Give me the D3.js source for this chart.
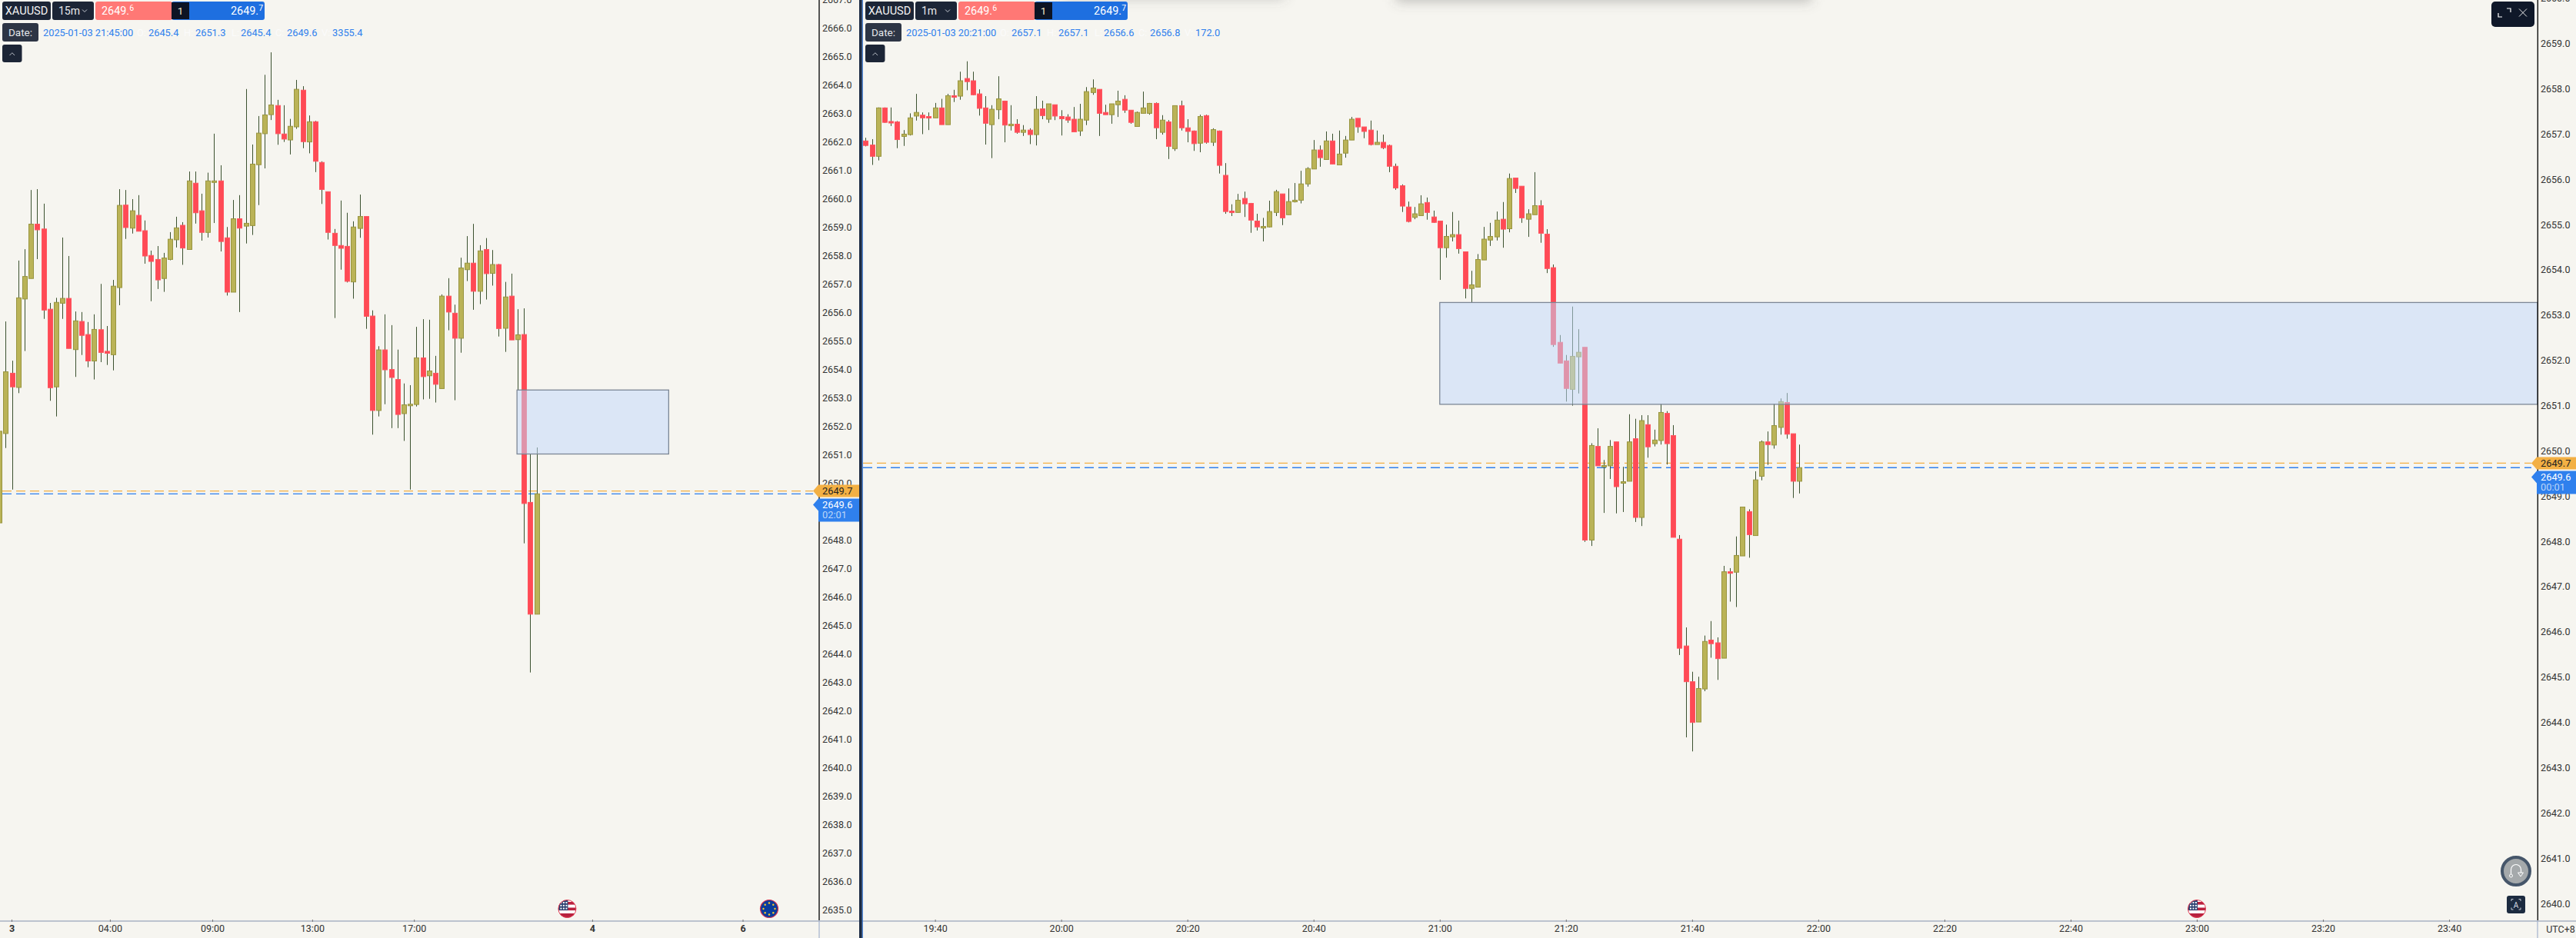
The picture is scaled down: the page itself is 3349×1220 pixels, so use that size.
<!DOCTYPE html>
<html><head><meta charset="utf-8">
<script src="https://cdn.jsdelivr.net/npm/d3@7/dist/d3.min.js"></script>
<style>
html,body{margin:0;padding:0;background:#f6f5f0;overflow:hidden}
svg{display:block}
text{font-family:Roboto,"Open Sans",sans-serif}
.ax text{font-family:Roboto,sans-serif}
</style></head><body>
<svg id="c" width="3349" height="1220"></svg>
<script>
// ---------- 15m chart (left) ----------
const leftOpen=[2648.58,2651.72,2653.84,2653.34,2656.45,2657.17,2659.08,2658.91,2656.09,2653.36,2656.30,2656.47,2654.67,2655.66,2655.20,2654.27,2655.37,2654.61,2654.49,2656.85,2659.75,2658.94,2659.39,2658.85,2657.98,2657.84,2657.17,2657.84,2658.53,2659.04,2658.19,2660.52,2659.55,2658.79,2660.56,2660.60,2658.60,2656.69,2659.27,2659.01,2659.03,2661.17,2662.26,2662.93,2663.25,2662.25,2662.04,2662.50,2663.79,2661.97,2662.68,2661.25,2660.22,2658.76,2658.33,2658.30,2657.05,2658.93,2659.35,2655.85,2652.53,2654.66,2653.97,2653.62,2652.42,2652.71,2652.74,2654.38,2653.75,2653.84,2653.30,2656.55,2655.95,2655.07,2657.48,2657.71,2656.72,2658.19,2657.35,2657.66,2655.42,2656.55,2655.02,2655.20,2649.30,2645.37];
const leftClose=[2651.80,2653.89,2653.36,2656.49,2657.24,2659.08,2658.88,2656.06,2653.33,2656.33,2656.47,2654.71,2655.68,2655.17,2654.27,2655.38,2654.57,2654.54,2656.90,2659.74,2658.96,2659.55,2658.83,2657.96,2657.77,2657.12,2657.89,2658.55,2658.95,2658.24,2660.60,2659.48,2658.79,2660.60,2660.60,2658.47,2656.69,2659.27,2658.94,2659.11,2661.19,2662.28,2662.92,2663.27,2662.26,2662.07,2662.52,2663.82,2661.98,2662.68,2661.29,2660.30,2658.79,2658.33,2658.23,2657.07,2658.98,2659.35,2655.84,2652.53,2654.66,2653.96,2653.69,2652.39,2652.73,2652.75,2654.38,2653.72,2653.92,2653.45,2656.55,2655.99,2655.07,2657.54,2657.71,2656.72,2658.14,2657.34,2657.66,2655.41,2656.52,2655.01,2655.19,2649.26,2645.37,2649.60];
const leftHigh=[2651.80,2655.66,2654.28,2657.80,2658.20,2660.28,2660.31,2659.80,2656.31,2656.49,2658.61,2657.96,2656.01,2655.99,2655.64,2655.91,2656.98,2655.50,2657.12,2660.31,2660.28,2659.96,2660.10,2659.21,2658.15,2658.31,2658.07,2658.80,2659.34,2659.15,2660.93,2660.93,2660.15,2660.89,2662.26,2661.15,2658.98,2659.93,2660.10,2663.83,2661.88,2662.88,2664.33,2665.12,2663.45,2663.26,2662.78,2664.15,2663.93,2662.90,2662.71,2661.29,2660.23,2658.91,2659.91,2659.48,2659.18,2660.12,2659.36,2656.05,2654.79,2655.91,2655.53,2654.67,2653.48,2653.42,2655.47,2655.74,2655.72,2654.45,2656.61,2657.18,2656.25,2657.90,2658.66,2659.09,2658.34,2658.59,2658.17,2657.68,2657.05,2657.34,2656.09,2656.12,2651.00,2651.23];
const leftLow=[2648.58,2651.21,2649.75,2653.14,2654.62,2657.17,2657.85,2655.75,2652.87,2652.32,2655.75,2654.71,2653.71,2654.48,2654.05,2653.62,2654.23,2654.13,2653.94,2656.23,2658.56,2658.75,2658.83,2657.69,2656.37,2656.80,2656.70,2657.81,2658.26,2657.65,2658.19,2659.10,2658.50,2658.61,2659.12,2658.12,2656.57,2656.69,2655.99,2658.40,2658.70,2659.75,2661.04,2662.74,2661.87,2661.97,2661.53,2662.43,2661.75,2661.57,2660.91,2659.79,2658.54,2655.78,2657.48,2657.03,2656.46,2658.60,2655.40,2651.68,2652.32,2652.75,2651.91,2651.91,2651.46,2649.75,2652.67,2652.92,2652.94,2652.81,2653.30,2655.35,2652.89,2654.56,2657.08,2656.07,2656.27,2656.43,2656.92,2655.13,2654.59,2655.01,2653.25,2647.86,2643.32,2645.37];
const leftPriceTicks=d3.range(2635,2668);
const leftTimeIdx=[1.94,17.5,33.7,49.5,65.6,93.8,117.6];
const leftTimeLabels=["3","04:00","09:00","13:00","17:00","4","6"];
const leftZoneIdx=[81.9,105.9];

// ---------- 1m chart (right) ----------
const rightStart=[19,29];
const rightOpen=[2656.82,2656.73,2656.48,2657.55,2657.25,2657.24,2656.92,2656.96,2657.37,2657.39,2657.36,2657.33,2657.55,2657.18,2657.82,2657.81,2658.20,2658.15,2657.86,2657.55,2657.18,2657.51,2657.70,2657.16,2657.19,2657.01,2657.06,2656.96,2657.53,2657.30,2657.62,2657.36,2657.35,2657.30,2657.04,2657.28,2657.89,2657.96,2657.45,2657.40,2657.62,2657.74,2657.50,2657.14,2657.43,2657.43,2657.65,2657.01,2657.24,2656.65,2657.60,2657.11,2657.04,2656.77,2657.38,2656.79,2657.04,2656.06,2655.27,2655.24,2655.55,2655.44,2655.05,2654.91,2654.92,2655.24,2655.65,2655.19,
2655.49,2655.51,2655.87,2656.20,2656.62,2656.41,2656.82,2656.29,2656.55,2656.84,2657.32,2657.13,2657.06,2656.74,2656.79,2656.72,2656.26,2655.83,2655.36,2655.13,2655.17,2655.46,2655.14,2655.05,2654.46,2654.70,2654.75,2654.37,2653.56,2653.59,2654.19,2654.63,2654.70,2655.09,2654.88,2656.00,2655.82,2655.09,2655.19,2655.39,2654.76,2654.02,2652.37,2651.96,2651.33,2652.05,2652.26,
2648.00,2650.07,2649.63,2649.64,2650.17,2649.27,2649.30,2650.24,2648.50,2650.55,2650.13,2650.20,2650.80,2650.31,2648.02,2645.66,2644.87,2643.98,2644.71,2645.79,2645.73,2645.39,2647.30,2647.29,2647.65,2648.63,2648.10,2649.41,2650.17,2650.10,2650.49,2651.04,2650.35,2649.30];
const rightClose=[2656.72,2656.48,2657.55,2657.23,2657.23,2656.85,2656.97,2657.33,2657.45,2657.33,2657.34,2657.55,2657.18,2657.82,2657.79,2658.15,2658.13,2657.84,2657.54,2657.21,2657.52,2657.75,2657.17,2657.19,2657.01,2657.06,2656.96,2657.52,2657.38,2657.64,2657.37,2657.31,2657.28,2657.02,2657.30,2657.91,2657.99,2657.43,2657.40,2657.64,2657.70,2657.50,2657.23,2657.45,2657.55,2657.65,2657.11,2657.28,2656.70,2657.60,2657.11,2657.03,2656.76,2657.36,2656.79,2657.07,2656.28,2655.26,2655.24,2655.51,2655.43,2655.07,2654.92,2654.93,2655.26,2655.70,2655.12,2655.48,
2655.51,2655.87,2656.21,2656.62,2656.45,2656.82,2656.31,2656.53,2656.84,2657.30,2657.13,2657.03,2656.74,2656.79,2656.67,2656.26,2655.78,2655.38,2655.04,2655.21,2655.43,2655.24,2655.02,2654.46,2654.71,2654.75,2654.44,2653.56,2653.64,2654.20,2654.65,2654.71,2655.07,2654.87,2655.99,2655.77,2655.12,2655.21,2655.39,2654.78,2654.00,2652.32,2651.91,2651.35,2652.06,2652.15,2648.00,
2650.09,2649.64,2649.65,2650.07,2649.18,2649.29,2650.17,2648.50,2650.64,2650.06,2650.21,2650.82,2650.13,2648.06,2645.61,2644.87,2643.97,2644.72,2645.76,2645.71,2645.38,2647.30,2647.27,2647.66,2648.73,2648.12,2649.33,2650.17,2650.11,2650.53,2651.06,2650.34,2649.30,2649.60];
const rightHigh=[2656.89,2656.86,2657.56,2657.56,2657.56,2657.26,2657.06,2657.43,2657.86,2657.45,2657.45,2657.66,2657.75,2657.86,2657.95,2658.35,2658.58,2658.35,2657.96,2657.81,2657.61,2658.25,2657.71,2657.61,2657.30,2657.17,2657.10,2657.81,2657.71,2657.64,2657.62,2657.50,2657.41,2657.57,2657.64,2658.01,2658.18,2657.96,2657.62,2657.64,2657.93,2657.83,2657.50,2657.47,2657.91,2657.66,2657.67,2657.39,2657.28,2657.60,2657.71,2657.30,2657.05,2657.40,2657.40,2657.10,2657.05,2656.33,2655.42,2655.65,2655.70,2655.45,2655.21,2655.12,2655.50,2655.74,2655.65,2655.77,
2655.89,2656.16,2656.24,2656.84,2656.72,2657.03,2656.98,2657.05,2656.93,2657.35,2657.32,2657.13,2657.27,2657.05,2656.96,2656.74,2656.32,2655.86,2655.48,2655.36,2655.62,2655.57,2655.28,2655.05,2654.97,2655.25,2655.06,2654.37,2653.95,2654.32,2654.92,2655.01,2655.26,2655.47,2656.10,2656.00,2655.82,2655.31,2656.13,2655.51,2654.87,2654.09,2652.53,2652.09,2653.16,2652.66,2652.26,
2650.14,2650.47,2649.77,2650.21,2650.17,2649.62,2650.78,2650.68,2650.76,2650.76,2650.44,2651.01,2650.85,2650.54,2648.11,2646.07,2645.09,2644.98,2645.89,2646.21,2645.85,2647.43,2647.38,2648.08,2648.73,2648.68,2649.52,2650.20,2650.40,2651.01,2651.13,2651.25,2650.35,2650.11];
const rightLow=[2656.70,2656.29,2656.39,2657.22,2657.15,2656.66,2656.71,2656.94,2657.27,2656.97,2657.06,2657.33,2657.18,2657.18,2657.68,2657.73,2657.94,2657.83,2657.38,2656.74,2656.44,2657.30,2656.79,2657.05,2656.98,2656.93,2656.75,2656.72,2657.30,2657.22,2657.28,2656.94,2657.22,2657.02,2656.93,2657.17,2657.84,2656.93,2657.40,2657.20,2657.35,2657.44,2657.20,2657.14,2657.43,2657.40,2656.86,2656.96,2656.42,2656.60,2657.05,2656.79,2656.60,2656.57,2656.76,2656.71,2656.10,2655.21,2655.16,2655.23,2655.14,2654.79,2654.84,2654.60,2654.91,2655.16,2654.96,2655.19,
2655.46,2655.44,2655.81,2656.20,2656.25,2656.41,2656.31,2656.29,2656.45,2656.84,2657.00,2656.88,2656.72,2656.74,2656.64,2656.13,2655.74,2655.25,2655.02,2655.09,2655.17,2655.08,2655.01,2653.75,2654.24,2654.60,2654.33,2653.34,2653.25,2653.59,2654.19,2654.50,2654.62,2654.46,2654.80,2655.67,2655.01,2654.70,2655.19,2654.57,2653.90,2652.27,2651.91,2651.06,2650.97,2651.24,2647.96,
2647.87,2649.64,2648.60,2649.35,2648.59,2648.62,2649.30,2648.40,2648.31,2649.82,2650.07,2650.11,2649.67,2648.06,2645.46,2643.64,2643.33,2643.98,2644.66,2645.40,2644.91,2645.39,2646.64,2646.52,2647.65,2647.61,2648.10,2649.32,2649.66,2650.02,2650.33,2650.24,2648.93,2649.03];
const rightPriceTicks=d3.range(2640,2661);
const rightTimeLabels=["19:40","20:00","20:20","20:40","21:00","21:20","21:40","22:00","22:20","22:40","23:00","23:20","23:40"];
const zonePrices=[2653.25,2651.0];
const askPrice=2649.7, bidPrice=2649.6;
const headerLeft=["2025-01-03 21:45:00","2645.4","2651.3","2645.4","2649.6","3355.4"];
const headerRight=["2025-01-03 20:21:00","2657.1","2657.1","2656.6","2656.8","172.0"];

// ---------- colours ----------
const BG="#f6f5f0",UP="#bab357",UPS="#989540",DN="#ff4a55",WICK="#3c5230",ORANGE="#f3b044",BLUE="#2f80ed",NAVY="#1c2536";

const svg=d3.select("#c");
svg.append("rect").attr("width",3349).attr("height",1220).attr("fill",BG);
const defs=svg.append("defs");
defs.append("clipPath").attr("id","clipL").append("rect").attr("x",0).attr("y",0).attr("width",1064).attr("height",1197);
defs.append("clipPath").attr("id","clipR").append("rect").attr("x",1122).attr("y",0).attr("width",2177).attr("height",1197);
defs.append("filter").attr("id","blur").attr("x","-20%").attr("y","-200%").attr("width","140%").attr("height","500%")
  .append("feGaussianBlur").attr("stdDeviation",8);

// scales
const xL=d3.scaleLinear().domain([1,85]).range([7.3,697.6]);
const yL=d3.scaleLinear().domain([2656,2635]).range([405.5,1182.5]);
const t=(h,m)=>new Date(2025,0,3,h,m);
const xR=d3.scaleTime().domain([t(19,29),t(21,57)]).range([1125.4,2339.3]);
const yR=d3.scaleLinear().domain([2659,2640]).range([55,1173.3]);

function candles(g,open,high,low,close,xOf,y){
  const data=open.map((o,i)=>({i,o,h:high[i],l:low[i],c:close[i]}));
  const px=d=>Math.round(xOf(d.i))+0.5;
  g.selectAll("line.w").data(data).join("line").attr("class","w")
    .attr("x1",px).attr("x2",px).attr("y1",d=>y(d.h)).attr("y2",d=>y(d.l))
    .attr("stroke",WICK).attr("stroke-width",1);
  g.selectAll("rect.b").data(data).join("rect").attr("class","b")
    .attr("x",d=>px(d)-3).attr("width",6)
    .attr("y",d=>y(Math.max(d.o,d.c)))
    .attr("height",d=>Math.max(2,Math.abs(y(d.o)-y(d.c))))
    .attr("fill",d=>d.c>=d.o?UP:DN)
    .attr("stroke",d=>d.c>=d.o?UPS:"#ff5560").attr("stroke-width",1);
}
function dashed(sel,x1,x2,yy,col){
  sel.append("line").attr("x1",x1).attr("x2",x2).attr("y1",yy).attr("y2",yy)
    .attr("stroke",col).attr("stroke-width",1.3).attr("stroke-dasharray","12 6");
}
function zone(g,x0,x1,y){
  g.append("rect").attr("x",x0).attr("y",y(zonePrices[0])).attr("width",x1-x0)
    .attr("height",y(zonePrices[1])-y(zonePrices[0]))
    .attr("fill","rgb(192,216,252)").attr("fill-opacity",.515)
    .attr("stroke","#7c8796").attr("stroke-width",1.3);
}

// left chart
const gL=svg.append("g").attr("clip-path","url(#clipL)");
dashed(gL,3,1057,yL(askPrice),ORANGE);
dashed(gL,3,1057,yL(bidPrice),BLUE);
candles(gL,leftOpen,leftHigh,leftLow,leftClose,i=>xL(i),yL);
zone(gL,xL(leftZoneIdx[0]),xL(leftZoneIdx[1]),yL);

// right chart
const gR=svg.append("g").attr("clip-path","url(#clipR)");
dashed(gR,1122,3291,yR(askPrice),ORANGE);
dashed(gR,1122,3291,yR(bidPrice),BLUE);
candles(gR,rightOpen,rightHigh,rightLow,rightClose,i=>xR(t(rightStart[0],rightStart[1]+i)),yR);
zone(gR,xR(t(21,0)),3299,yR);

// axes
function priceAxis(x,y,vals,dy){
  const a=svg.append("g").attr("class","ax").attr("transform",`translate(${x},${dy})`)
    .call(d3.axisRight(y).tickValues(vals).tickSize(0).tickPadding(4).tickFormat(d3.format(".1f")));
  a.select(".domain").remove();
  a.selectAll("text").attr("font-size",12.5).attr("fill","#333").style("font-family","Roboto");
}
priceAxis(1065,yL,leftPriceTicks,1.2);
priceAxis(3299,yR,rightPriceTicks,1.7);

// frame lines
const frame=[[1065,0,1065,1197,"#111",1.4],[3299.3,0,3299.3,1197,"#111",1.4],
 [0,1198,3349,1198,"#bcc3cf",2],[1065,1198,1065,1220,"#93a4c6",1],[3299,1198,3299,1220,"#93a4c6",1]];
svg.append("g").selectAll("line").data(frame).join("line")
  .attr("x1",d=>d[0]).attr("y1",d=>d[1]).attr("x2",d=>d[2]).attr("y2",d=>d[3])
  .attr("stroke",d=>d[4]).attr("stroke-width",d=>d[5]);

// time axes
function timeAxis(scale,vals,labels){
  const a=svg.append("g").attr("class","ax").attr("transform","translate(0,1196)")
    .call(d3.axisBottom(scale).tickValues(vals).tickSize(3).tickPadding(4).tickFormat((d,i)=>labels[i]));
  a.select(".domain").remove();
  a.selectAll("line").attr("stroke","#777");
  a.selectAll("text").attr("font-size",12.5).attr("fill","#333").style("font-family","Roboto")
    .attr("font-weight",(d,i)=>labels[i].length<3?700:400);
}
timeAxis(xL,leftTimeIdx,leftTimeLabels);
const rightTimes=rightTimeLabels.map(s=>{const [h,m]=s.split(":").map(Number);return t(h,m);});
timeAxis(xR,rightTimes,rightTimeLabels);
svg.append("text").attr("x",3329).attr("y",1213).attr("text-anchor","middle").attr("font-size",12.5).attr("fill","#333").text("UTC+8");

// separator
svg.append("rect").attr("x",1117).attr("y",0).attr("width",3.8).attr("height",1220).attr("fill","#1c2b44");
svg.append("rect").attr("x",1120.8).attr("y",0).attr("width",1).attr("height",1220).attr("fill","#2a6fd0");

// price tags
function tags(xTip,xL0,xR0,yAsk,yBid,timer){
  const o=svg.append("g");
  o.append("path").attr("d",`M${xTip},${yAsk} L${xL0},${yAsk-8} H${xR0} V${yAsk+8} H${xL0} Z`).attr("fill",ORANGE);
  o.append("text").attr("x",xL0+5).attr("y",yAsk+4.5).attr("font-size",12.8).attr("fill","#222").text(askPrice.toFixed(1));
  const top=yAsk+10, cy=yAsk+18;
  o.append("path").attr("d",`M${xTip},${cy} L${xL0},${cy-8} V${top} H${xR0} V${top+30} H${xL0} V${cy+8} Z`).attr("fill",BLUE);
  o.append("text").attr("x",xL0+5).attr("y",cy+4.5).attr("font-size",12.8).attr("fill","#fff").text(bidPrice.toFixed(1));
  o.append("text").attr("x",xL0+5).attr("y",cy+17.5).attr("font-size",12.8).attr("fill","#bcd6f8").text(timer);
}
tags(1057,1064,1117,yL(askPrice),yL(bidPrice),"02:01");
tags(3291,3298,3349,yR(askPrice),yR(bidPrice),"00:01");

// top shadow artefacts
svg.append("rect").attr("x",1380).attr("y",-24).attr("width",290).attr("height",22).attr("fill","#555").attr("fill-opacity",.3).attr("filter","url(#blur)");
svg.append("rect").attr("x",1815).attr("y",-20).attr("width",540).attr("height",22).attr("fill","#555").attr("fill-opacity",.35).attr("filter","url(#blur)");

// header controls
function header(x0,tf,vals){
  const g=svg.append("g").attr("transform",`translate(${x0},0)`);
  const box=(x,y,w,h,f,r=3)=>g.append("rect").attr("x",x).attr("y",y).attr("width",w).attr("height",h).attr("rx",r).attr("fill",f);
  const txt=(x,y,s,f,sz,an)=>g.append("text").attr("x",x).attr("y",y).attr("font-size",sz).attr("fill",f).attr("text-anchor",an||"start").text(s);
  box(0,2,63,24,NAVY); txt(31.5,19.2,"XAUUSD","#f2f2f2",14.6,"middle");
  box(65,2,54,24,NAVY); txt(73,19,tf,"#e8e8ea",14);
  g.append("path").attr("d","M104,12.5 l3,3 l3,-3").attr("fill","none").attr("stroke","#c8ccd4").attr("stroke-width",1);
  // spread bar
  box(121,2,100,24,"#ff7875");
  box(220,2,121,24,"#1e6fe0");
  g.append("rect").attr("x",220).attr("y",3).attr("width",23).attr("height",22).attr("fill","#0d1424");
  txt(231.5,19,"1","#f5e6c8",13.5,"middle");
  const sup=(x,v,an)=>{
    const [a,b]=v.split(".");
    const tx=txt(x,19.2,"", "#fff",14.4,an);
    tx.append("tspan").text(a+".");
    tx.append("tspan").attr("dy",-5).attr("font-size",10.5).text(b);
  };
  sup(129,"2649.6");
  sup(297,"2649.7");
  // date row
  box(0,30,47,24,"#2d3545"); txt(23.5,46.5,"Date:","#e6e7ea",13.5,"middle");
  const blue="#2f80ed";
  const d=vals;
  txt(53,46.5,d[0],blue,12.8);
  const lab=["O:","H:","L:","C:","V:"];
  const lx=[175,236,298,355,415], vx=[190,251,310,370,429];
  lab.forEach((s,i)=>{txt(lx[i],46.5,s,"#fbfbfb",12.8);txt(vx[i],46.5,d[i+1],blue,12.8);});
  box(0,58,25.5,23,NAVY);
  g.append("path").attr("d","M9.5,72 l3.3,-3.3 l3.3,3.3").attr("fill","none").attr("stroke","#b8bdc6").attr("stroke-width",1);
}
header(3,"15m",headerLeft);
header(1125,"1m",headerRight);

// top-right control
svg.append("rect").attr("x",3239).attr("y",2).attr("width",56).attr("height",33).attr("rx",5).attr("fill","#0f1829");
svg.append("path").attr("d","M3248,17 v5 h5 M3259,11 h5 v5").attr("fill","none").attr("stroke","#fff").attr("stroke-width",1.2);
svg.append("path").attr("d","M3275,11.5 l10,10 M3285,11.5 l-10,10").attr("fill","none").attr("stroke","#e8e8e8").attr("stroke-width",1);

// bottom-right controls
svg.append("circle").attr("cx",3271).attr("cy",1133).attr("r",18).attr("fill","#a5a9ab").attr("stroke","#46566a").attr("stroke-width",4);
svg.append("path").attr("d","M3264.5,1137 v-6 a6.5,6.5 0 0 1 13,0 v4").attr("fill","none").attr("stroke","#fff").attr("stroke-width",1.2);
svg.append("circle").attr("cx",3264.5).attr("cy",1139).attr("r",2).attr("fill","none").attr("stroke","#fff").attr("stroke-width",1);
svg.append("path").attr("d","M3273.5,1135 h7 l-3.5,5 z").attr("fill","none").attr("stroke","#fff").attr("stroke-width",1);
svg.append("rect").attr("x",3259).attr("y",1165).attr("width",24).attr("height",23).attr("rx",3).attr("fill","#1c2b40");
svg.append("path").attr("d","M3265,1172 v-2.5 h2.5 M3274.5,1169.5 h2.5 v2.5 M3265,1180.5 v2.5 h2.5 M3274.5,1183 h2.5 v-2.5").attr("fill","none").attr("stroke","#d5dae2").attr("stroke-width",.9);
svg.append("text").attr("x",3271).attr("y",1180.5).attr("text-anchor","middle").attr("font-size",10).attr("fill","#d5dae2").text("A");

// flags
function usFlag(cx,cy,id){
  const r=11.5;
  defs.append("clipPath").attr("id",id).append("circle").attr("cx",cx).attr("cy",cy).attr("r",r);
  const g=svg.append("g").attr("clip-path",`url(#${id})`);
  g.append("rect").attr("x",cx-r).attr("y",cy-r).attr("width",2*r).attr("height",2*r).attr("fill","#fff");
  [-9,-1.5,6].forEach(o=>g.append("rect").attr("x",cx-r).attr("y",cy+o).attr("width",2*r).attr("height",3.6).attr("fill","#b8223f"));
  g.append("rect").attr("x",cx-r).attr("y",cy+8).attr("width",2*r).attr("height",4).attr("fill","#b8223f");
  g.append("rect").attr("x",cx-r).attr("y",cy-r).attr("width",12.5).attr("height",13.5).attr("fill","#2a3f6f");
  d3.range(3).forEach(a=>d3.range(3).forEach(b=>g.append("rect").attr("x",cx-9+b*3.5).attr("y",cy-9+a*3.8).attr("width",2).attr("height",2).attr("fill","#fff")));
  svg.append("circle").attr("cx",cx).attr("cy",cy).attr("r",r).attr("fill","none").attr("stroke","#e23a52").attr("stroke-width",1);
}
function euFlag(cx,cy){
  svg.append("circle").attr("cx",cx).attr("cy",cy).attr("r",11.5).attr("fill","#0b3c9c").attr("stroke","#d9344f").attr("stroke-width",1.2);
  d3.range(8).forEach(i=>{const a=i/8*2*Math.PI;
    svg.append("circle").attr("cx",cx+7.5*Math.cos(a)).attr("cy",cy+7.5*Math.sin(a)).attr("r",1.2).attr("fill","#f4c92e");});
}
usFlag(737.4,1182,"usL");
usFlag(xR(t(23,0)),1182,"usR");
euFlag(1000,1182);
</script>
</body></html>
